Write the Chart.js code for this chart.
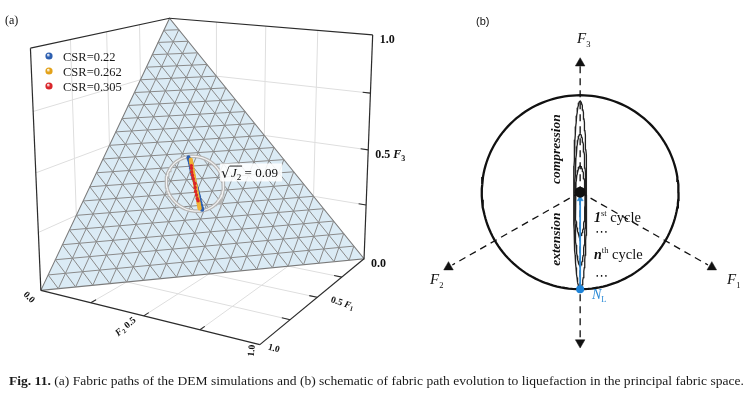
<!DOCTYPE html>
<html><head><meta charset="utf-8">
<script src="https://cdn.jsdelivr.net/npm/chart.js@4.4.1/dist/chart.umd.min.js"></script>
<style>
html,body{margin:0;padding:0;background:#fff;width:749px;height:398px;overflow:hidden}
#wrap{position:relative;width:749px;height:398px}
canvas{position:absolute;left:0;top:0}
#cap{position:absolute;left:9px;top:373px;font-family:"Liberation Serif",serif;font-size:13.5px;line-height:16px;white-space:nowrap;transform-origin:0 0;color:#1a1a1a}
</style></head><body>
<div id="wrap"><canvas id="c" width="749" height="398"></canvas>
<div id="cap"><b>Fig. 11.</b> (a) Fabric paths of the DEM simulations and (b) schematic of fabric path evolution to liquefaction in the principal fabric space.</div></div>
<script>
// ---------------- DATA ----------------
const seriesNames = ['CSR=0.22', 'CSR=0.262', 'CSR=0.305'];
// fabric paths: F3 component and F1-F2 difference (F1+F2+F3 = 1)
const csr022_F3  = [0.333,0.347,0.325,0.352,0.319,0.357,0.313,0.362,0.307,0.368,0.300,0.375,0.292,0.383,0.283,0.392,0.273,0.402,0.262,0.412,0.251,0.421,0.243,0.430,0.236,0.435,0.233];
const csr022_dF  = [0.000,0.004,-0.003,0.005,-0.004,0.006,-0.006,0.007,-0.007,0.008,-0.009,0.009,-0.010,0.010,-0.012,0.011,-0.013,0.012,-0.015,0.013,-0.016,0.014,-0.018,0.015,-0.019,0.016,-0.019];
const csr0262_F3 = [0.333,0.350,0.322,0.358,0.312,0.367,0.300,0.378,0.287,0.391,0.272,0.404,0.258,0.416,0.246,0.425,0.239];
const csr0262_dF = [0.000,0.001,-0.001,0.002,-0.001,0.002,-0.002,0.003,-0.002,0.003,-0.003,0.003,-0.003,0.004,-0.004,0.004,-0.004];
const csr0305_F3 = [0.333,0.352,0.318,0.365,0.303,0.378,0.290,0.392,0.276,0.402,0.268];
const csr0305_dF = [0.000,0.007,0.004,0.009,0.005,0.010,0.003,0.008,0.001,0.006,-0.002];
const sqrtJ2 = 0.09;
const axisTicks = [0.25, 0.5, 0.75];
const tickLabels = ['0.0', '0.5', '1.0'];
const meshDivisions = 20;

// ---------------- LAYOUT / STYLE ----------------
const seriesColors = ['#2d5fb0', '#e3a21a', '#d9262b'];
// calibration of the 3D view: (F1,F2,F3) -> page position
const viewCalib = [
  [[1,0,0],[35,293]], [[0,1,0],[364,260]], [[1,1,0],[256,349]],
  [[0,0,1],[166,13]], [[1,0,1],[25,43]], [[0,1,1],[373,30]],
  [[1/3,1/3,1/3],[192,183],2], [[0,1,0.5],[368,148]], [[1,0.5,0],[142,320]], [[0.5,1,0],[317,301]]
];
const B = {cx:583.5, cy:192, R:100};
const loops = [{t:0.27,b:-0.45,hw:0.05},{t:0.60,b:-0.76,hw:0.056},{t:0.94,b:-1.0,hw:0.066}];

function solveDLT(pairs){
  const rows=[], rhs=[];
  pairs.forEach(([P,uv,w])=>{
    w=w||1; const [X,Y,Z]=P; const u=uv[0]/100, v=uv[1]/100;
    rows.push([X,Y,Z,1,0,0,0,0,-u*X,-u*Y,-u*Z].map(a=>a*w)); rhs.push(u*w);
    rows.push([0,0,0,0,X,Y,Z,1,-v*X,-v*Y,-v*Z].map(a=>a*w)); rhs.push(v*w);
  });
  const n=11, M=[...Array(n)].map(()=>new Array(n+1).fill(0));
  for(let r=0;r<rows.length;r++){for(let i=0;i<n;i++){for(let j=0;j<n;j++)M[i][j]+=rows[r][i]*rows[r][j];M[i][n]+=rows[r][i]*rhs[r];}}
  for(let c=0;c<n;c++){
    let p=c; for(let r=c+1;r<n;r++) if(Math.abs(M[r][c])>Math.abs(M[p][c])) p=r;
    [M[c],M[p]]=[M[p],M[c]];
    for(let r=0;r<n;r++){ if(r===c) continue; const f=M[r][c]/M[c][c]; for(let j=c;j<=n;j++) M[r][j]-=f*M[c][j]; }
  }
  return M.map((row,i)=>row[n]/row[i]);
}
const H = solveDLT(viewCalib);
function proj(X,Y,Z){
  const w=H[8]*X+H[9]*Y+H[10]*Z+1;
  return {x:(H[0]*X+H[1]*Y+H[2]*Z+H[3])/w*100, y:(H[4]*X+H[5]*Y+H[6]*Z+H[7])/w*100};
}
const pb = (u,v)=>({x:B.cx+B.R*u, y:B.cy-B.R*v});

const DS=[];
function line(pts,color,width,extra){ DS.push(Object.assign({data:pts,showLine:true,borderColor:color,borderWidth:width,pointRadius:0,fill:false,tension:0},extra||{})); }
function seg3(a,b,color,width,extra){ line([proj(...a),proj(...b)],color,width,extra); }

// ---- panel (a): back walls and floor grids
const gridC='#dedede';
axisTicks.forEach(t=>{
  seg3([0,t,0],[0,t,1],gridC,1); seg3([0,0,t],[0,1,t],gridC,1);   // F1=0 wall
  seg3([t,0,0],[t,0,1],gridC,1); seg3([0,0,t],[1,0,t],gridC,1);   // F2=0 wall
  seg3([t,0,0],[t,1,0],gridC,1); seg3([0,t,0],[1,t,0],gridC,1);   // floor
});
seg3([0,0,0],[0,0,1],'#cfcfcf',1); seg3([0,0,0],[1,0,0],'#cfcfcf',1); seg3([0,0,0],[0,1,0],'#cfcfcf',1);
// ---- triangle plane with mesh
line([proj(1,0,0),proj(0,1,0),proj(0,0,1),proj(1,0,0)],'#7a7a7a',1.1,{polyFill:'#dbebf5'});
for(let k=1;k<meshDivisions;k++){
  const c=k/meshDivisions;
  seg3([1-c,0,c],[0,1-c,c],'#8a8a8a',1);
  seg3([c,1-c,0],[c,0,1-c],'#8a8a8a',1);
  seg3([1-c,c,0],[0,c,1-c],'#8a8a8a',1);
}
// ---- sqrt(J2) circle
(function(){
  const r=Math.sqrt(2)*sqrtJ2, s2=Math.SQRT2, s6=Math.sqrt(6), pts=[];
  for(let i=0;i<=120;i++){const t=i/120*2*Math.PI, a=Math.cos(t), b=Math.sin(t);
    pts.push(proj(1/3+r*(a/s2-b/s6), 1/3+r*(-a/s2-b/s6), 1/3+r*(2*b/s6)));}
  line(pts,'#b5b5b5',3.6); line(pts,'#f4f4f4',1.2);
})();
// ---- fabric paths
function pathPts(F3,dF){ return F3.map((f,i)=>proj((1-f+dF[i])/2,(1-f-dF[i])/2,f)); }
line(pathPts(csr022_F3,csr022_dF),seriesColors[0],3,{pointRadius:2,pointBackgroundColor:seriesColors[0],pointBorderWidth:0});
line(pathPts(csr0262_F3,csr0262_dF),'#e0a43a',4,{pointRadius:2,pointBackgroundColor:'#f0b437',pointBorderWidth:0});
line(pathPts(csr0305_F3,csr0305_dF),'rgba(217,38,43,0.55)',0.8,{pointRadius:1.7,pointBackgroundColor:seriesColors[2],pointBorderWidth:0});
// ---- box edges and ticks
const edgeC='#2b2b2b';
seg3([1,0,1],[0,0,1],edgeC,1.2); seg3([0,0,1],[0,1,1],edgeC,1.2);
seg3([1,0,1],[1,0,0],edgeC,1.2); seg3([0,1,1],[0,1,0],edgeC,1.2);
seg3([1,0,0],[1,1,0],edgeC,1.2); seg3([1,1,0],[0,1,0],edgeC,1.2);
axisTicks.forEach(t=>{
  seg3([0,1,t],[0,0.965,t],edgeC,1.1);
  seg3([1,t,0],[0.965,t,0],edgeC,1.1);
  seg3([t,1,0],[t,0.965,0],edgeC,1.1);
});

// ---- panel (b)
(function(){
  const pts=[]; for(let i=0;i<=160;i++){const t=i/160*2*Math.PI; pts.push(pb(Math.cos(t),Math.sin(t)));}
  line(pts,'#111',2.3);
  loops.forEach(L=>{const q=[], m=(L.t+L.b)/2, h=(L.t-L.b)/2;
    for(let i=0;i<=100;i++){const t=i/100*2*Math.PI; q.push(pb(L.hw*Math.cos(t), m+h*Math.sin(t)));}
    line(q,'#222',1.3);});
  const dash={borderDash:[7,5]};
  line([pb(0,1.30),pb(0,-1.52)],'#111',1.3,dash);
  const c30=Math.cos(Math.PI/6), s30=0.5;
  line([pb(0,0),pb(1.50*c30,-1.50*s30)],'#111',1.3,dash);
  line([pb(0,0),pb(-1.50*c30,-1.50*s30)],'#111',1.3,dash);
  const head=(p,rot,r,col)=>DS.push({data:[p],showLine:false,pointStyle:'triangle',rotation:rot,pointRadius:r,pointBackgroundColor:col,pointBorderColor:col,pointBorderWidth:0.5});
  head(pb(0,1.33),0,5.5,'#111'); head(pb(0,-1.55),180,5.5,'#111');
  head(pb(1.545*c30,-1.545*s30),120,5.5,'#111'); head(pb(-1.545*c30,-1.545*s30),240,5.5,'#111');
  line([pb(0,-1.0),pb(0,-0.08)],'#2a8ad6',1.8);
  head(pb(0,-0.07),0,3.5,'#2a8ad6');
  DS.push({data:[pb(0,0)],showLine:false,pointRadius:5.5,pointBackgroundColor:'#111',pointBorderWidth:0});
  DS.push({data:[pb(0,-1.0)],showLine:false,pointRadius:4,pointBackgroundColor:'#1d83d8',pointBorderWidth:0});
})();
DS.forEach((d,i)=>{d.order=DS.length-i;});

// ---------------- TEXT PLUGIN ----------------
const SERIF='"Liberation Serif", serif', SANS='"Liberation Sans", sans-serif';
function rich(ctx,parts,x,y,align){
  let w=0; parts.forEach(p=>{ctx.font=p[1]; w+=ctx.measureText(p[0]).width;});
  let cx=align==='center'?x-w/2:align==='right'?x-w:x;
  parts.forEach(p=>{ctx.font=p[1]; ctx.fillStyle=p[3]||'#111'; ctx.fillText(p[0],cx,y+(p[2]||0)); cx+=ctx.measureText(p[0]).width;});
  return w;
}
function rot(ctx,x,y,deg,fn){ctx.save();ctx.translate(x,y);ctx.rotate(deg*Math.PI/180);fn();ctx.restore();}

const polyPlugin={id:'polyFill',beforeDatasetDraw(chart,args){
  const ds=chart.data.datasets[args.index]; if(!ds.polyFill) return;
  const {ctx,scales:{x,y}}=chart; ctx.save(); ctx.beginPath();
  ds.data.forEach((p,i)=>{const px=x.getPixelForValue(p.x),py=y.getPixelForValue(p.y); i?ctx.lineTo(px,py):ctx.moveTo(px,py);});
  ctx.closePath(); ctx.fillStyle=ds.polyFill; ctx.fill(); ctx.restore();
}};
const textPlugin={id:'texts',afterDatasetsDraw(chart){
  const ctx=chart.ctx, X=chart.scales.x, Y=chart.scales.y;
  const px=p=>({x:X.getPixelForValue(p.x),y:Y.getPixelForValue(p.y)});
  ctx.save(); ctx.textBaseline='alphabetic'; ctx.textAlign='left';
  // panel labels
  ctx.fillStyle='#111'; ctx.font='12px '+SERIF; ctx.fillText('(a)',5,24);
  ctx.font='11px '+SANS; ctx.fillText('(b)',476,25);
  // legend
  seriesNames.forEach((n,i)=>{
    const y=56+i*15, g=ctx.createRadialGradient(48,y-1.3,0.3,49,y,4);
    g.addColorStop(0,'#ffffff'); g.addColorStop(0.45,seriesColors[i]); g.addColorStop(1,seriesColors[i]);
    ctx.fillStyle=g; ctx.beginPath(); ctx.arc(49,y,3.6,0,2*Math.PI); ctx.fill();
    ctx.fillStyle='#1a1a1a'; ctx.font='12.5px '+SERIF; ctx.fillText(n,63,y+4.5);
  });
  // F3 axis labels
  const bf='bold 12px '+SERIF;
  [[0,tickLabels[0]],[0.5,tickLabels[1]],[1,tickLabels[2]]].forEach(([t,l])=>{
    const p=px(proj(0,1,t)); const parts=[[l+(t===0.5?' ':''),bf]];
    if(t===0.5){parts.push(['F','italic bold 12px '+SERIF]);parts.push(['3','bold 8px '+SERIF,3]);}
    rich(ctx,parts,p.x+7,p.y+8);
  });
  // F2 axis labels (rotated)
  const sf='bold 9.5px '+SERIF;
  let p=px(proj(1,0,0)); rot(ctx,p.x-12,p.y+7,45,()=>{ctx.textBaseline='middle';rich(ctx,[[tickLabels[0],sf]],0,0,'center');});
  p=px(proj(1,0.5,0)); rot(ctx,p.x-18,p.y+11,-40,()=>{ctx.textBaseline='middle';rich(ctx,[['F','italic bold 9.5px '+SERIF],['2','bold 6.5px '+SERIF,2.5],[' '+tickLabels[1],sf]],0,0,'center');});
  p=px(proj(1,1,0)); rot(ctx,p.x-8,p.y+6,-85,()=>{ctx.textBaseline='middle';rich(ctx,[[tickLabels[2],sf]],0,0,'center');});
  // F1 axis labels
  p=px(proj(0.5,1,0)); rot(ctx,p.x+25,p.y+6,18,()=>{ctx.textBaseline='middle';rich(ctx,[[tickLabels[1]+' ',sf],['F','italic bold 9.5px '+SERIF],['1','bold 6.5px '+SERIF,2.5]],0,0,'center');});
  p=px(proj(1,1,0)); rot(ctx,p.x+14,p.y+4,15,()=>{ctx.textBaseline='middle';rich(ctx,[[tickLabels[2],sf]],0,0,'center');});
  ctx.textBaseline='alphabetic';
  // sqrt(J2) label
  const c=px(proj(1/3,1/3,1/3));
  const lx=c.x+25, ly=c.y-20;
  ctx.fillStyle='rgba(255,255,255,0.88)'; ctx.fillRect(lx,ly,62,18);
  ctx.fillStyle='#111'; ctx.font='14px "DejaVu Serif", serif'; ctx.fillText('\u221A',lx+1,ly+15);
  ctx.strokeStyle='#111'; ctx.lineWidth=0.9; ctx.beginPath(); ctx.moveTo(lx+9.5,ly+2.6); ctx.lineTo(lx+22,ly+2.6); ctx.stroke();
  rich(ctx,[['J','italic 13px '+SERIF],['2','9px '+SERIF,2.5],[' = 0.09','13px '+SERIF]],lx+11,ly+14);
  // panel (b) labels
  const it='italic 15px '+SERIF;
  rich(ctx,[['F',it],['3','8.5px '+SERIF,4]],577,43);
  rich(ctx,[['F',it],['1','8.5px '+SERIF,4]],727,284);
  rich(ctx,[['F',it],['2','8.5px '+SERIF,4]],430,284);
  rot(ctx,557,149,-90,()=>{ctx.textBaseline='middle';rich(ctx,[['compression','italic bold 13.5px '+SERIF]],0,0,'center');});
  rot(ctx,557,239,-90,()=>{ctx.textBaseline='middle';rich(ctx,[['extension','italic bold 13.5px '+SERIF]],0,0,'center');});
  ctx.textBaseline='alphabetic';
  rich(ctx,[['1','italic bold 14px '+SERIF],['st','8.5px '+SERIF,-6],[' cycle','14.5px '+SERIF]],594,222);
  rich(ctx,[['\u22EF','13px "DejaVu Sans", sans-serif']],595,236);
  rich(ctx,[['n','italic bold 14px '+SERIF],['th','8.5px '+SERIF,-6],[' cycle','14.5px '+SERIF]],594,259);
  rich(ctx,[['\u22EF','13px "DejaVu Sans", sans-serif']],595,280);
  rich(ctx,[['N','italic 14px '+SERIF,0,'#2a8ad6'],['L','8.5px '+SERIF,3,'#2a8ad6']],592,299);
  ctx.restore();
}};

new Chart(document.getElementById('c'),{
  type:'scatter',
  data:{datasets:DS},
  options:{responsive:false,animation:false,devicePixelRatio:1,events:[],
    layout:{padding:0},
    scales:{x:{type:'linear',min:0,max:749,display:false},y:{type:'linear',min:0,max:398,reverse:true,display:false}},
    plugins:{legend:{display:false},tooltip:{enabled:false}}},
  plugins:[polyPlugin,textPlugin]
});
// caption fit
const cap=document.getElementById('cap'); const w=cap.getBoundingClientRect().width;
cap.style.transform='scaleX('+(735/w)+')';
</script>
</body></html>
